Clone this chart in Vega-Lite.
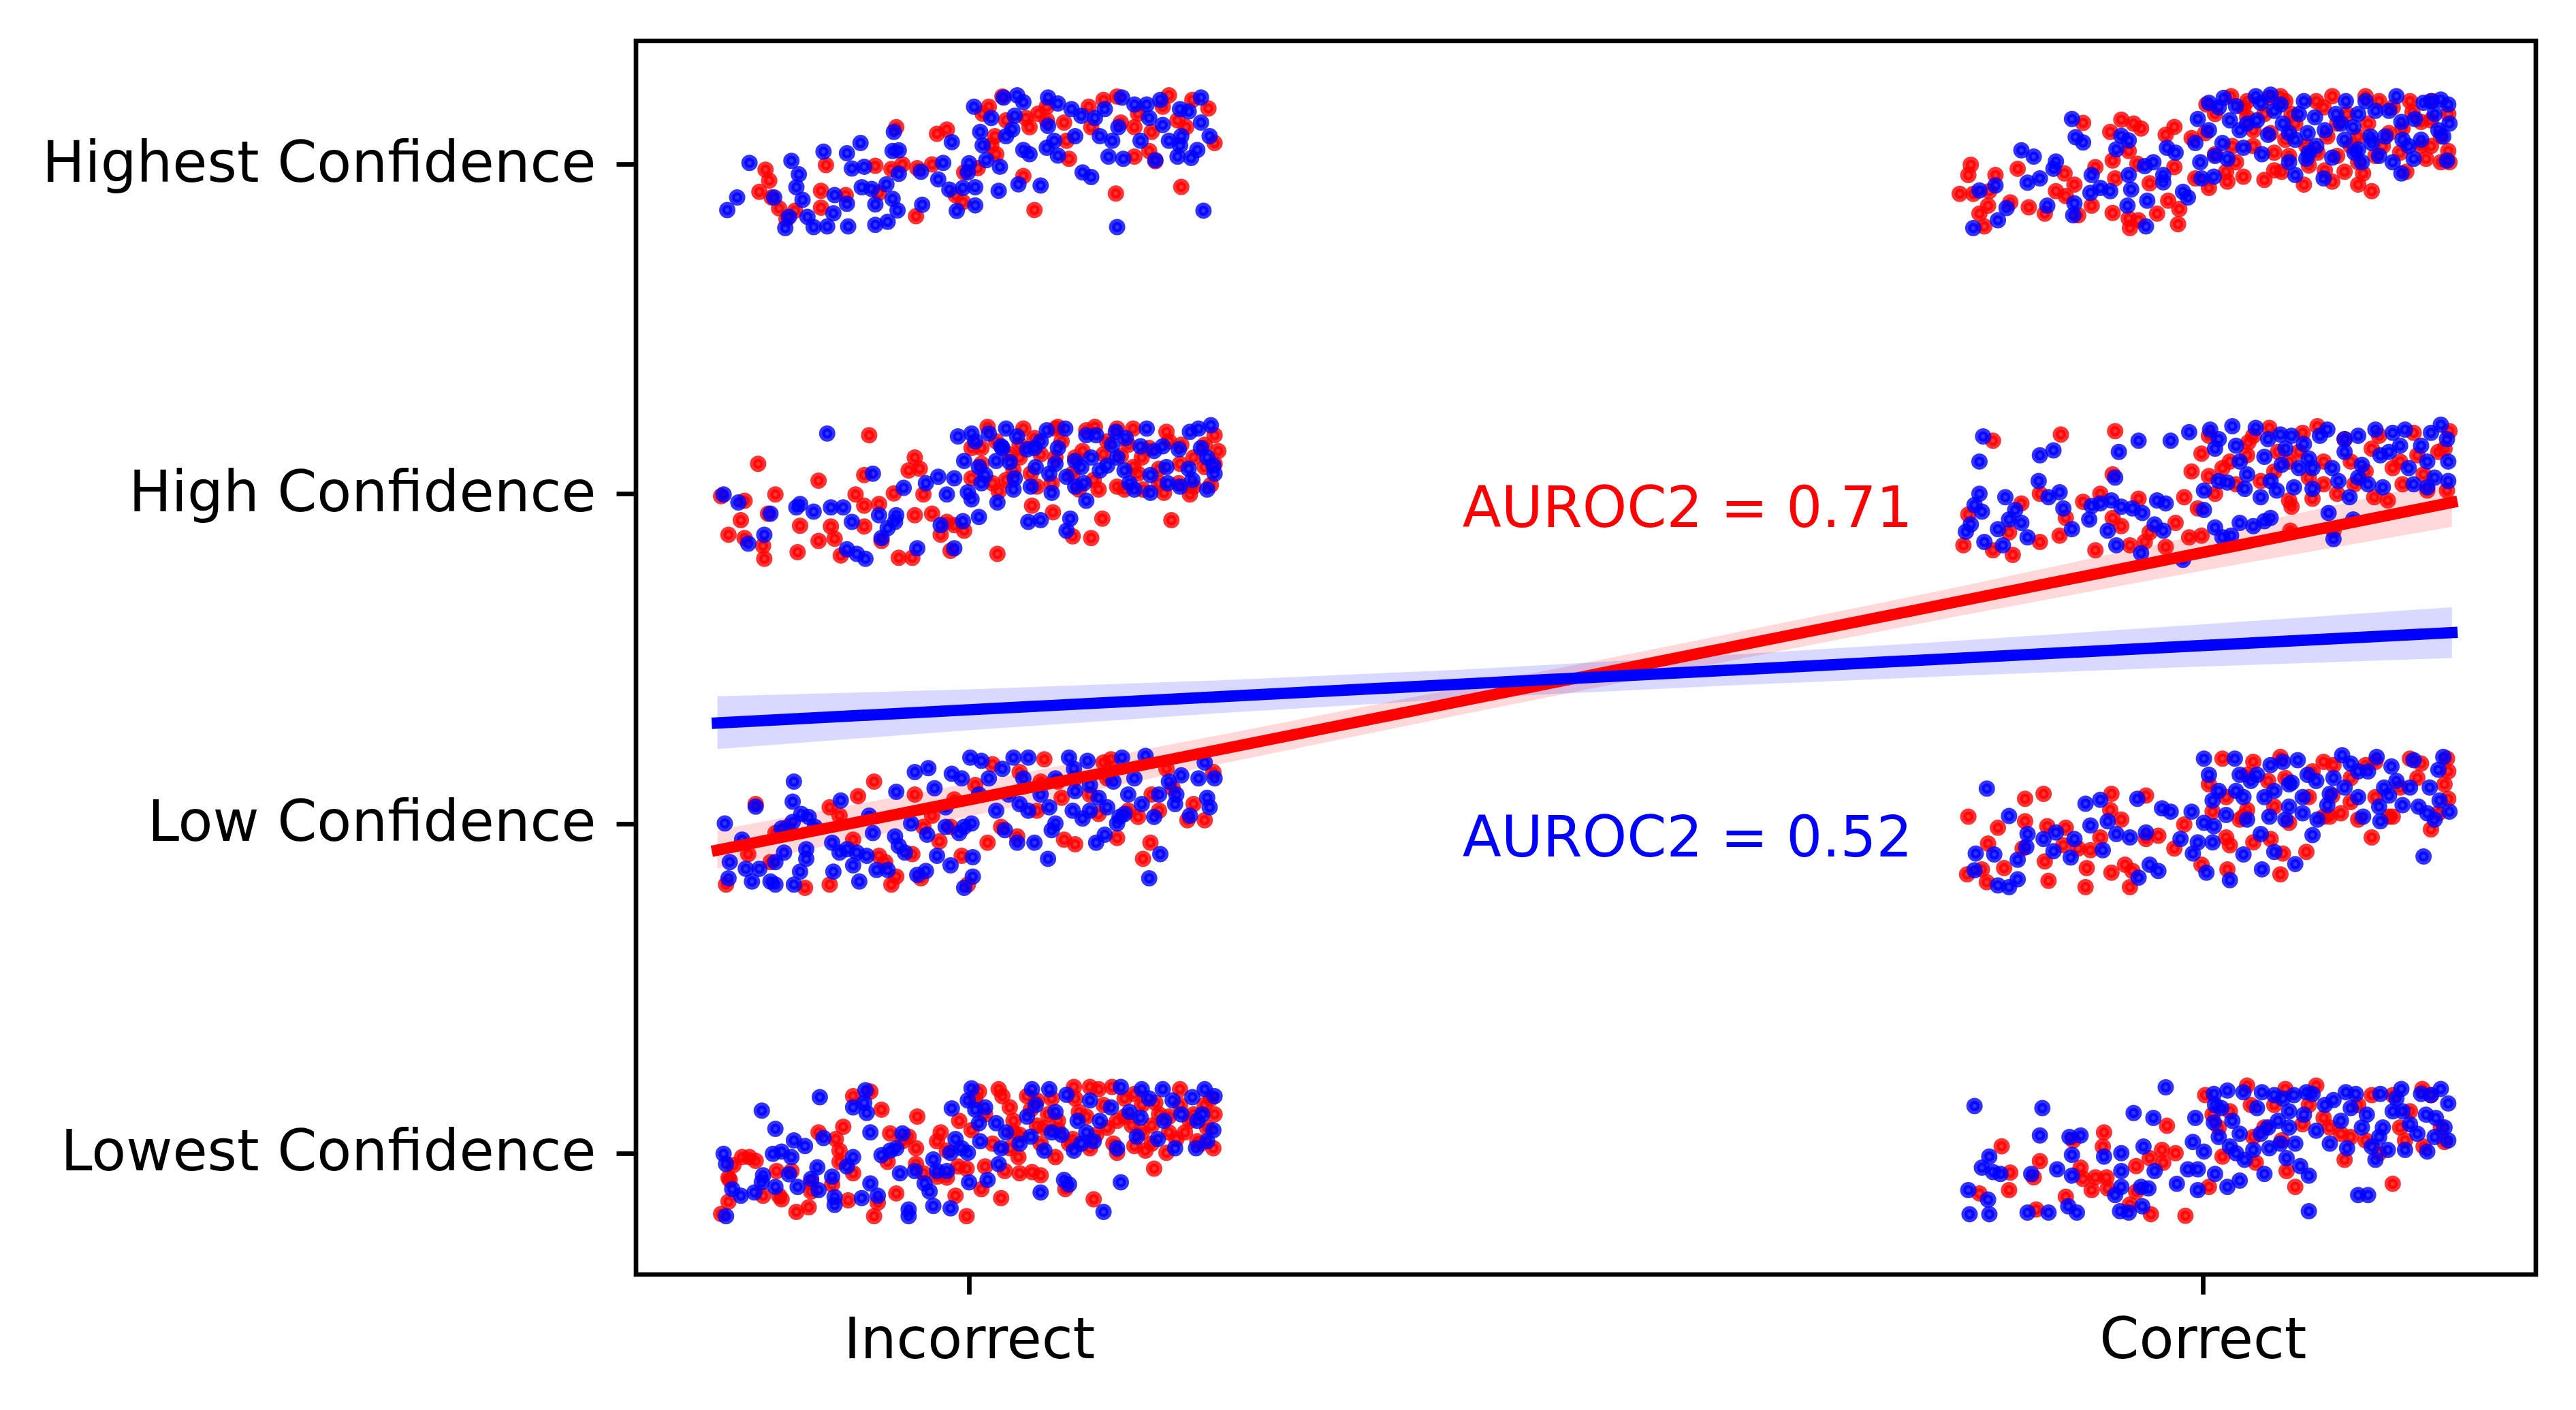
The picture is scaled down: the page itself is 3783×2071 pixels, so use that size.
{
"$schema":"https://vega.github.io/schema/vega-lite/v6.json",
"width":2790,"height":1812,
"autosize":{"type":"none"},
"padding":{"left":934,"top":60,"right":59,"bottom":199},
"background":"white",
"config":{"view":{"stroke":"black","strokeWidth":6.7},"axis":{"domain":false,"grid":false,"ticks":true,"tickSize":29,"tickWidth":6.7,"tickColor":"black","labelFont":"DejaVu Sans","labelFontSize":83.3,"labelColor":"black","labelLimit":3000,"labelOverlap":false,"labelBound":false,"labelFlush":false}},
"datasets":{
"R":[
{"x":-0.165,"y":2.983},{"x":-0.162,"y":2.95},{"x":-0.17,"y":2.916},{"x":-0.16,"y":2.899},{"x":-0.154,"y":2.866},{"x":-0.141,"y":2.859},{"x":-0.148,"y":2.833},{"x":-0.12,"y":2.919},{"x":-0.12,"y":2.868},{"x":-0.116,"y":2.997},{"x":-0.1,"y":2.906},{"x":-0.076,"y":2.995},{"x":-0.073,"y":2.913},{"x":-0.063,"y":2.985},{"x":-0.059,"y":3.112},{"x":-0.054,"y":2.999},{"x":-0.043,"y":2.842},{"x":-0.042,"y":2.988},{"x":-0.03,"y":2.999},{"x":-0.026,"y":3.092},{"x":-0.018,"y":3.105},{"x":-0.011,"y":2.906},{"x":-0.005,"y":2.885},{"x":-0.004,"y":2.975},{"x":0.007,"y":2.988},{"x":0.011,"y":3.153},{"x":0.018,"y":3.057},{"x":0.016,"y":3.174},{"x":0.022,"y":3.03},{"x":0.027,"y":3.205},{"x":0.03,"y":3.133},{"x":0.044,"y":2.964},{"x":0.049,"y":3.112},{"x":0.053,"y":2.861},{"x":0.056,"y":3.153},{"x":0.063,"y":3.133},{"x":0.077,"y":3.126},{"x":0.079,"y":3.071},{"x":0.081,"y":3.016},{"x":0.097,"y":3.174},{"x":0.109,"y":3.195},{"x":0.119,"y":2.911},{"x":0.12,"y":3.205},{"x":0.123,"y":3.126},{"x":0.134,"y":3.023},{"x":0.137,"y":3.153},{"x":0.146,"y":3.04},{"x":0.148,"y":3.098},{"x":0.151,"y":3.009},{"x":0.157,"y":3.174},{"x":0.162,"y":3.209},{"x":0.172,"y":2.931},{"x":0.176,"y":3.112},{"x":0.181,"y":3.195},{"x":0.194,"y":3.169},{"x":0.199,"y":3.064},
{"x":0.021,"y":3.085},{"x":0.063,"y":3.174},{"x":0.099,"y":3.112},{"x":0.134,"y":3.112},{"x":0.169,"y":3.133},{"x":0.046,"y":3.14},
{"x":-0.081,"y":2.178},{"x":-0.171,"y":2.091},{"x":-0.201,"y":1.993},{"x":-0.182,"y":1.979},{"x":-0.157,"y":1.998},{"x":-0.185,"y":1.92},{"x":-0.195,"y":1.876},{"x":-0.182,"y":1.866},{"x":-0.167,"y":1.842},{"x":-0.166,"y":1.803},{"x":-0.163,"y":1.94},{"x":-0.137,"y":1.903},{"x":-0.139,"y":1.823},{"x":-0.122,"y":2.04},{"x":-0.122,"y":1.857},{"x":-0.112,"y":1.901},{"x":-0.109,"y":1.864},{"x":-0.104,"y":1.813},{"x":-0.092,"y":1.998},{"x":-0.085,"y":1.964},{"x":-0.085,"y":2.057},{"x":-0.085,"y":1.901},{"x":-0.073,"y":1.969},{"x":-0.071,"y":1.857},{"x":-0.061,"y":2.001},{"x":-0.057,"y":1.806},{"x":-0.046,"y":1.806},{"x":-0.044,"y":2.11},{"x":-0.049,"y":2.071},{"x":-0.04,"y":2.076},{"x":-0.037,"y":1.998},{"x":-0.044,"y":1.935},{"x":-0.03,"y":1.94},{"x":-0.023,"y":1.876},{"x":-0.015,"y":1.827},{"x":-0.012,"y":1.905},{"x":-0.004,"y":1.888},{"x":-0.018,"y":1.915},{"x":0.002,"y":2.047},{"x":0.015,"y":2.203},{"x":0.01,"y":2.139},{"x":0.019,"y":2.032},{"x":0.023,"y":1.818},{"x":0.024,"y":2.008},{"x":0.033,"y":2.12},{"x":0.036,"y":2.071},{"x":0.041,"y":2.11},{"x":0.044,"y":2.198},{"x":0.051,"y":1.964},{"x":0.053,"y":2.169},{"x":0.055,"y":2.022},{"x":0.068,"y":1.944},{"x":0.07,"y":2.11},{"x":0.072,"y":2.203},{"x":0.084,"y":1.871},{"x":0.086,"y":2.11},{"x":0.089,"y":2.013},{"x":0.095,"y":2.193},{"x":0.099,"y":1.866},{"x":0.102,"y":2.203},{"x":0.105,"y":2.013},{"x":0.108,"y":1.925},{"x":0.109,"y":2.12},{"x":0.123,"y":2.115},{"x":0.126,"y":2.013},{"x":0.133,"y":2.198},{"x":0.133,"y":2.081},{"x":0.14,"y":2.11},{"x":0.141,"y":2.013},{"x":0.154,"y":2.076},{"x":0.158,"y":2.003},{"x":0.16,"y":2.188},{"x":0.164,"y":1.92},{"x":0.17,"y":2.032},{"x":0.172,"y":2.149},{"x":0.179,"y":1.998},{"x":0.182,"y":2.11},{"x":0.191,"y":2.081},{"x":0.196,"y":2.027},{"x":0.199,"y":2.178},{"x":0.202,"y":2.13},
{"x":0.002,"y":2.139},{"x":0.01,"y":2.091},{"x":0.022,"y":2.159},{"x":0.03,"y":2.042},{"x":0.041,"y":2.149},{"x":0.05,"y":2.061},{"x":0.058,"y":2.12},{"x":0.067,"y":2.032},{"x":0.075,"y":2.159},{"x":0.084,"y":2.061},{"x":0.092,"y":2.13},{"x":0.101,"y":2.042},{"x":0.112,"y":2.159},{"x":0.12,"y":2.022},{"x":0.129,"y":2.149},{"x":0.137,"y":2.061},{"x":0.146,"y":2.139},{"x":0.154,"y":2.032},{"x":0.162,"y":2.159},{"x":0.171,"y":2.091},{"x":0.182,"y":2.022},{"x":0.191,"y":2.149},{"x":0.199,"y":2.091},{"x":0.07,"y":2.198},{"x":0.12,"y":2.198},
{"x":-0.197,"y":0.815},{"x":-0.179,"y":0.907},{"x":-0.161,"y":0.883},{"x":-0.173,"y":1.059},{"x":-0.157,"y":0.971},{"x":-0.147,"y":0.99},{"x":-0.133,"y":0.805},{"x":-0.113,"y":0.815},{"x":-0.113,"y":1.049},{"x":-0.105,"y":1.024},{"x":-0.094,"y":0.951},{"x":-0.09,"y":1.083},{"x":-0.077,"y":1.127},{"x":-0.073,"y":0.902},{"x":-0.068,"y":0.883},{"x":-0.063,"y":0.815},{"x":-0.059,"y":0.839},{"x":-0.046,"y":0.907},{"x":-0.044,"y":1.088},{"x":-0.037,"y":0.99},{"x":-0.039,"y":0.834},{"x":-0.03,"y":1.024},{"x":-0.024,"y":0.946},{"x":-0.015,"y":0.99},{"x":-0.012,"y":1.073},{"x":-0.001,"y":0.815},{"x":0.005,"y":1.117},{"x":0.015,"y":0.942},{"x":0.019,"y":1.18},{"x":0.026,"y":0.99},{"x":0.039,"y":0.961},{"x":0.058,"y":1.127},{"x":0.061,"y":1.195},{"x":0.077,"y":0.951},{"x":0.075,"y":1.078},{"x":0.086,"y":0.937},{"x":0.098,"y":1.088},{"x":0.105,"y":1.029},{"x":0.109,"y":1.185},{"x":0.115,"y":1.195},{"x":0.12,"y":0.956},{"x":0.129,"y":1.039},{"x":0.141,"y":0.893},{"x":0.147,"y":0.942},{"x":0.148,"y":1.088},{"x":0.165,"y":1.107},{"x":0.177,"y":1.01},{"x":0.191,"y":1.01},{"x":0.198,"y":1.156},{"x":0.182,"y":1.059},{"x":0.16,"y":1.166},{"x":0.137,"y":1.02},{"x":0.072,"y":1.127},{"x":0.041,"y":1.156},{"x":-0.006,"y":0.902},{"x":0.086,"y":1.137},
{"x":0.055,"y":1.039},{"x":0.154,"y":1.039},{"x":0.112,"y":1.137},
{"x":-0.201,"y":-0.184},{"x":-0.195,"y":-0.147},{"x":-0.191,"y":-0.036},{"x":-0.194,"y":-0.081},{"x":-0.178,"y":-0.012},{"x":-0.173,"y":-0.023},{"x":-0.167,"y":-0.129},{"x":-0.154,"y":-0.129},{"x":-0.152,"y":-0.14},{"x":-0.144,"y":-0.054},{"x":-0.14,"y":-0.178},{"x":-0.13,"y":-0.164},{"x":-0.128,"y":-0.116},{"x":-0.122,"y":0.063},{"x":-0.108,"y":0.043},{"x":-0.102,"y":0.08},{"x":-0.105,"y":-0.026},{"x":-0.111,"y":-0.095},{"x":-0.098,"y":-0.143},{"x":-0.094,"y":0.173},{"x":-0.08,"y":0.187},{"x":-0.071,"y":0.132},{"x":-0.074,"y":-0.15},{"x":-0.077,"y":-0.191},{"x":-0.066,"y":-0.026},{"x":-0.064,"y":0.06},{"x":-0.059,"y":-0.122},{"x":-0.049,"y":0.05},{"x":-0.043,"y":0.015},{"x":-0.042,"y":0.111},{"x":-0.043,"y":-0.033},{"x":-0.026,"y":0.036},{"x":-0.023,"y":0.063},{"x":-0.026,"y":-0.071},{"x":-0.018,"y":-0.074},{"x":-0.011,"y":-0.129},{"x":-0.002,"y":-0.191},{"x":-0.008,"y":0.098},{"x":-0.002,"y":-0.047},{"x":0.002,"y":0.07},{"x":0.008,"y":0.187},{"x":0.01,"y":-0.109},{"x":0.013,"y":-0.04},{"x":0.024,"y":0.194},{"x":0.026,"y":-0.136},{"x":0.029,"y":-0.054},{"x":0.033,"y":0.139},{"x":0.04,"y":-0.012},{"x":0.041,"y":-0.061},{"x":0.047,"y":0.173},{"x":0.051,"y":-0.057},{"x":0.058,"y":-0.067},{"x":0.061,"y":0.077},{"x":0.07,"y":-0.012},{"x":0.078,"y":-0.109},{"x":0.085,"y":0.201},{"x":0.089,"y":0.125},{"x":0.101,"y":-0.14},{"x":0.105,"y":0.194},{"x":0.112,"y":0.077},{"x":0.116,"y":0.201},{"x":0.12,"y":0.001},{"x":0.126,"y":0.166},{"x":0.132,"y":0.084},{"x":0.143,"y":0.008},{"x":0.15,"y":-0.047},{"x":0.151,"y":0.153},{"x":0.16,"y":0.001},{"x":0.171,"y":0.194},{"x":0.175,"y":0.063},{"x":0.185,"y":0.036},{"x":0.191,"y":0.146},{"x":0.198,"y":0.015},{"x":0.199,"y":0.118},{"x":0.193,"y":0.077},{"x":0.134,"y":0.022},{"x":0.098,"y":0.015},{"x":0.064,"y":0.118},{"x":0.162,"y":0.111},{"x":0.036,"y":0.063},{"x":0.055,"y":0.16},{"x":0.072,"y":0.07},{"x":0.12,"y":0.098},{"x":0.148,"y":0.084},{"x":0.168,"y":0.043},{"x":0.084,"y":0.043},{"x":0.182,"y":0.118},
{"x":0.005,"y":0.166},{"x":0.013,"y":0.118},{"x":0.019,"y":0.029},{"x":0.027,"y":0.173},{"x":0.036,"y":0.098},{"x":0.041,"y":0.056},{"x":0.05,"y":0.132},{"x":0.058,"y":0.029},{"x":0.067,"y":0.166},{"x":0.072,"y":0.098},{"x":0.081,"y":0.029},{"x":0.086,"y":0.166},{"x":0.095,"y":0.111},{"x":0.103,"y":0.056},{"x":0.109,"y":0.146},{"x":0.117,"y":0.029},{"x":0.126,"y":0.111},{"x":0.134,"y":0.18},{"x":0.14,"y":0.063},{"x":0.148,"y":0.029},{"x":0.154,"y":0.118},{"x":0.162,"y":0.063},{"x":0.171,"y":0.146},{"x":0.179,"y":0.098},{"x":0.188,"y":0.029},{"x":0.196,"y":0.166},{"x":0.14,"y":0.146},{"x":0.098,"y":0.201},{"x":0.055,"y":0.084},{"x":0.033,"y":0.015},{"x":-0.184,"y":-0.012},{"x":-0.195,"y":-0.074},{"x":-0.156,"y":-0.054},{"x":-0.128,"y":-0.088},{"x":-0.105,"y":0.008},{"x":-0.094,"y":-0.061},{"x":-0.054,"y":0.036},{"x":-0.037,"y":-0.061},{"x":-0.018,"y":0.008},{"x":-0.009,"y":-0.04},
{"x":0.812,"y":2.998},{"x":0.81,"y":2.967},{"x":0.803,"y":2.91},{"x":0.814,"y":2.91},{"x":0.827,"y":2.918},{"x":0.832,"y":2.967},{"x":0.819,"y":2.85},{"x":0.826,"y":2.874},{"x":0.823,"y":2.811},{"x":0.844,"y":2.884},{"x":0.85,"y":2.986},{"x":0.859,"y":2.869},{"x":0.872,"y":2.85},{"x":0.881,"y":2.918},{"x":0.888,"y":2.972},{"x":0.889,"y":2.903},{"x":0.896,"y":2.938},{"x":0.899,"y":2.845},{"x":0.903,"y":3.125},{"x":0.913,"y":2.991},{"x":0.91,"y":2.874},{"x":0.929,"y":2.957},{"x":0.925,"y":3.098},{"x":0.927,"y":3.011},{"x":0.927,"y":2.852},{"x":0.934,"y":3.135},{"x":0.94,"y":3.04},{"x":0.944,"y":3.123},{"x":0.95,"y":3.108},{"x":0.947,"y":3.001},{"x":0.94,"y":2.835},{"x":0.941,"y":2.806},{"x":0.948,"y":2.83},{"x":0.957,"y":2.942},{"x":0.963,"y":2.85},{"x":0.97,"y":3.089},{"x":0.972,"y":2.889},{"x":0.977,"y":3.113},{"x":0.977,"y":2.991},{"x":0.981,"y":2.864},{"x":0.98,"y":2.818},{"x":0.991,"y":3.079},{"x":0.994,"y":2.957},{"x":1.003,"y":3.181},{"x":1.005,"y":2.928},{"x":1.01,"y":3.03},{"x":1.02,"y":2.947},{"x":1.023,"y":3.206},{"x":1.027,"y":3.006},{"x":1.033,"y":2.962},{"x":1.036,"y":3.142},{"x":1.041,"y":3.055},{"x":1.05,"y":2.952},{"x":1.054,"y":3.201},{"x":1.058,"y":2.981},{"x":1.063,"y":3.206},{"x":1.067,"y":3.074},{"x":1.072,"y":3.152},{"x":1.082,"y":2.938},{"x":1.086,"y":2.996},{"x":1.093,"y":3.035},{"x":1.098,"y":3.172},{"x":1.099,"y":2.981},{"x":1.105,"y":2.947},{"x":1.105,"y":3.206},{"x":1.109,"y":3.123},{"x":1.12,"y":3.055},{"x":1.126,"y":2.938},{"x":1.13,"y":2.972},{"x":1.132,"y":3.206},{"x":1.137,"y":2.918},{"x":1.14,"y":3.025},{"x":1.146,"y":3.055},{"x":1.154,"y":3.172},{"x":1.162,"y":3.108},{"x":1.17,"y":3.157},{"x":1.177,"y":3.128},{"x":1.181,"y":3.016},{"x":1.185,"y":3.055},{"x":1.186,"y":3.191},{"x":1.193,"y":3.084},{"x":1.199,"y":3.04},{"x":1.2,"y":3.006},{"x":1.126,"y":3.084},{"x":1.07,"y":3.025},{"x":1.055,"y":3.094},{"x":1.036,"y":3.191},
{"x":1.002,"y":3.094},{"x":1.01,"y":3.152},{"x":1.024,"y":3.055},{"x":1.033,"y":3.172},{"x":1.041,"y":3.103},{"x":1.05,"y":3.152},{"x":1.058,"y":3.035},{"x":1.067,"y":3.191},{"x":1.075,"y":3.123},{"x":1.084,"y":3.055},{"x":1.092,"y":3.191},{"x":1.101,"y":3.084},{"x":1.109,"y":3.025},{"x":1.117,"y":3.152},{"x":1.126,"y":3.006},{"x":1.134,"y":3.123},{"x":1.143,"y":3.191},{"x":1.151,"y":3.094},{"x":1.16,"y":3.035},{"x":1.168,"y":3.191},{"x":1.177,"y":3.055},{"x":1.185,"y":3.133},{"x":1.193,"y":3.006},{"x":1.199,"y":3.152},{"x":1.019,"y":2.977},{"x":1.064,"y":2.977},{"x":1.115,"y":2.977},{"x":1.165,"y":2.977},
{"x":0.83,"y":2.161},{"x":0.885,"y":2.18},{"x":0.929,"y":2.19},{"x":0.927,"y":2.059},{"x":0.806,"y":1.844},{"x":0.81,"y":1.937},{"x":0.83,"y":1.829},{"x":0.846,"y":1.815},{"x":0.853,"y":1.971},{"x":0.843,"y":1.883},{"x":0.868,"y":1.854},{"x":0.868,"y":2},{"x":0.884,"y":1.873},{"x":0.889,"y":1.927},{"x":0.903,"y":1.976},{"x":0.913,"y":1.829},{"x":0.917,"y":2},{"x":0.927,"y":1.927},{"x":0.934,"y":1.902},{"x":0.941,"y":1.844},{"x":0.948,"y":1.985},{"x":0.953,"y":1.854},{"x":0.957,"y":1.883},{"x":0.97,"y":1.839},{"x":0.978,"y":1.912},{"x":0.985,"y":1.99},{"x":0.989,"y":1.868},{"x":0.999,"y":1.873},{"x":0.996,"y":1.956},{"x":0.991,"y":2.068},{"x":0.999,"y":2.122},{"x":1.005,"y":2.054},{"x":1.01,"y":2},{"x":1.016,"y":2.078},{"x":1.027,"y":2.029},{"x":1.036,"y":2.117},{"x":1.037,"y":2.156},{"x":1.047,"y":2.039},{"x":1.054,"y":2.2},{"x":1.061,"y":2.127},{"x":1.07,"y":1.98},{"x":1.072,"y":1.961},{"x":1.078,"y":2.127},{"x":1.086,"y":2.049},{"x":1.089,"y":1.985},{"x":1.093,"y":2.205},{"x":1.098,"y":2.098},{"x":1.106,"y":1.888},{"x":1.109,"y":2},{"x":1.115,"y":2.166},{"x":1.123,"y":2.029},{"x":1.132,"y":2.068},{"x":1.139,"y":1.99},{"x":1.143,"y":2.176},{"x":1.15,"y":1.98},{"x":1.154,"y":2.078},{"x":1.162,"y":2.029},{"x":1.171,"y":2.185},{"x":1.174,"y":2.117},{"x":1.182,"y":2.01},{"x":1.191,"y":2.127},{"x":1.198,"y":2.01},{"x":1.2,"y":2.19},{"x":1.071,"y":1.888},
{"x":1.005,"y":2.176},{"x":1.022,"y":2.098},{"x":1.041,"y":2.176},{"x":1.058,"y":2.068},{"x":1.081,"y":2.185},{"x":1.098,"y":2.029},{"x":1.12,"y":2.098},{"x":1.137,"y":2.137},{"x":1.16,"y":2.098},{"x":1.179,"y":2.059},{"x":1.196,"y":2.137},{"x":1.07,"y":2.098},
{"x":0.81,"y":1.021},{"x":0.809,"y":0.846},{"x":0.825,"y":0.822},{"x":0.821,"y":0.861},{"x":0.826,"y":0.939},{"x":0.839,"y":0.865},{"x":0.834,"y":0.987},{"x":0.856,"y":1.075},{"x":0.856,"y":1.007},{"x":0.854,"y":0.924},{"x":0.871,"y":1.09},{"x":0.874,"y":0.992},{"x":0.872,"y":0.885},{"x":0.875,"y":0.826},{"x":0.889,"y":0.987},{"x":0.887,"y":0.934},{"x":0.899,"y":0.924},{"x":0.906,"y":0.865},{"x":0.905,"y":0.807},{"x":0.909,"y":0.919},{"x":0.917,"y":0.958},{"x":0.926,"y":1.09},{"x":0.925,"y":1.041},{"x":0.926,"y":0.851},{"x":0.934,"y":1.012},{"x":0.937,"y":0.875},{"x":0.941,"y":0.807},{"x":0.943,"y":0.856},{"x":0.954,"y":1.085},{"x":0.954,"y":0.953},{"x":0.964,"y":0.963},{"x":0.977,"y":0.924},{"x":0.985,"y":0.997},{"x":0.999,"y":0.875},{"x":1.008,"y":1.036},{"x":1.019,"y":0.958},{"x":1.022,"y":0.934},{"x":1.02,"y":0.861},{"x":1.016,"y":1.197},{"x":1.03,"y":1.012},{"x":1.036,"y":1.148},{"x":1.041,"y":0.943},{"x":1.055,"y":0.953},{"x":1.063,"y":0.846},{"x":1.065,"y":0.909},{"x":1.067,"y":1.138},{"x":1.084,"y":0.914},{"x":1.089,"y":1.158},{"x":1.098,"y":1.021},{"x":1.063,"y":1.202},{"x":1.105,"y":1.085},{"x":1.112,"y":1.031},{"x":1.12,"y":1.065},{"x":1.126,"y":1.012},{"x":1.132,"y":1.177},{"x":1.137,"y":0.958},{"x":1.151,"y":1.021},{"x":1.16,"y":1.109},{"x":1.168,"y":1.197},{"x":1.177,"y":1.182},{"x":1.185,"y":0.982},{"x":1.196,"y":1.119},{"x":1.199,"y":1.075},{"x":1.198,"y":1.197},{"x":1.058,"y":1.051},{"x":1.106,"y":1.177},{"x":1.033,"y":1.021},
{"x":1.005,"y":1.119},{"x":1.019,"y":1.08},{"x":1.036,"y":1.041},{"x":1.053,"y":1.129},{"x":1.07,"y":1.002},{"x":1.086,"y":1.08},{"x":1.103,"y":1.021},{"x":1.12,"y":1.138},{"x":1.14,"y":1.08},{"x":1.154,"y":1.021},{"x":1.174,"y":1.138},{"x":1.191,"y":1.031},{"x":1.199,"y":1.158},{"x":1.041,"y":1.187},{"x":1.098,"y":1.187},{"x":1.14,"y":1.187},
{"x":0.837,"y":0.021},{"x":0.819,"y":-0.122},{"x":0.844,"y":-0.059},{"x":0.843,"y":-0.112},{"x":0.863,"y":-0.073},{"x":0.868,"y":-0.024},{"x":0.865,"y":-0.171},{"x":0.889,"y":-0.132},{"x":0.895,"y":0.039},{"x":0.901,"y":-0.044},{"x":0.903,"y":-0.078},{"x":0.91,"y":-0.112},{"x":0.913,"y":-0.073},{"x":0.922,"y":-0.073},{"x":0.92,"y":0.063},{"x":0.919,"y":0.02},{"x":0.923,"y":-0.107},{"x":0.941,"y":-0.156},{"x":0.946,"y":-0.039},{"x":0.946,"y":-0.117},{"x":0.957,"y":-0.015},{"x":0.958,"y":-0.185},{"x":0.967,"y":0.01},{"x":0.968,"y":-0.029},{"x":0.971,"y":0.083},{"x":0.978,"y":0},{"x":0.986,"y":-0.19},{"x":1.005,"y":-0.102},{"x":1.002,"y":0.176},{"x":1.008,"y":0.117},{"x":1.016,"y":-0.01},{"x":1.022,"y":0.127},{"x":1.036,"y":0.205},{"x":1.043,"y":-0.029},{"x":1.05,"y":0.078},{"x":1.058,"y":0.146},{"x":1.067,"y":0.195},{"x":1.068,"y":-0.054},{"x":1.075,"y":-0.102},{"x":1.092,"y":0.205},{"x":1.098,"y":0.107},{"x":1.103,"y":0.078},{"x":1.12,"y":0.049},{"x":1.132,"y":0.039},{"x":1.143,"y":0},{"x":1.154,"y":-0.093},{"x":1.164,"y":0.039},{"x":1.168,"y":0.127},{"x":1.178,"y":0.195},{"x":1.185,"y":0.176},{"x":1.193,"y":0.078},{"x":1.196,"y":0.034},{"x":1.154,"y":0.176},{"x":1.126,"y":0.146},{"x":1.081,"y":0.088},{"x":1.041,"y":0.049},{"x":1.115,"y":-0.02},
{"x":1.013,"y":0.078},{"x":1.039,"y":0.146},{"x":1.064,"y":0.039},{"x":1.086,"y":0.146},{"x":1.112,"y":0.059},{"x":1.137,"y":0.176},{"x":1.16,"y":0.078},{"x":1.179,"y":0.02}
],
"B":[
{"x":-0.196,"y":2.861},{"x":-0.188,"y":2.899},{"x":-0.178,"y":3.004},{"x":-0.158,"y":2.899},{"x":-0.144,"y":3.01},{"x":-0.138,"y":2.969},{"x":-0.14,"y":2.93},{"x":-0.135,"y":2.892},{"x":-0.146,"y":2.84},{"x":-0.149,"y":2.806},{"x":-0.131,"y":2.84},{"x":-0.126,"y":2.809},{"x":-0.115,"y":2.811},{"x":-0.118,"y":3.038},{"x":-0.109,"y":2.906},{"x":-0.11,"y":2.851},{"x":-0.099,"y":3.033},{"x":-0.098,"y":2.811},{"x":-0.099,"y":2.88},{"x":-0.095,"y":2.987},{"x":-0.085,"y":2.992},{"x":-0.088,"y":3.064},{"x":-0.087,"y":2.93},{"x":-0.079,"y":2.925},{"x":-0.076,"y":2.816},{"x":-0.076,"y":2.878},{"x":-0.066,"y":2.825},{"x":-0.067,"y":2.939},{"x":-0.062,"y":2.895},{"x":-0.058,"y":2.86},{"x":-0.061,"y":3.098},{"x":-0.062,"y":3.04},{"x":-0.057,"y":3.042},{"x":-0.057,"y":2.971},{"x":-0.038,"y":2.877},{"x":-0.039,"y":2.977},{"x":-0.021,"y":3.004},{"x":-0.025,"y":2.954},{"x":-0.016,"y":2.923},{"x":-0.014,"y":3.067},{"x":-0.01,"y":2.858},{"x":-0.005,"y":2.928},{"x":0.005,"y":2.93},{"x":0.005,"y":2.875},{"x":-0.001,"y":2.975},{"x":0,"y":3.003},{"x":0.004,"y":3.174},{"x":0.009,"y":3.098},{"x":0.011,"y":3.057},{"x":0.014,"y":3.012},{"x":0.018,"y":3.14},{"x":0.024,"y":2.919},{"x":0.025,"y":2.992},{"x":0.028,"y":3.202},{"x":0.037,"y":3.147},{"x":0.039,"y":3.209},{"x":0.035,"y":3.105},{"x":0.03,"y":3.085},{"x":0.044,"y":3.188},{"x":0.044,"y":3.043},{"x":0.049,"y":3.03},{"x":0.04,"y":2.939},{"x":0.058,"y":2.935},{"x":0.064,"y":3.202},{"x":0.064,"y":3.116},{"x":0.072,"y":3.184},{"x":0.069,"y":3.071},{"x":0.072,"y":3.026},{"x":0.083,"y":3.167},{"x":0.086,"y":3.085},{"x":0.091,"y":3.147},{"x":0.092,"y":2.975},{"x":0.099,"y":2.961},{"x":0.102,"y":3.14},{"x":0.106,"y":3.085},{"x":0.11,"y":3.167},{"x":0.113,"y":3.023},{"x":0.12,"y":2.809},{"x":0.124,"y":3.202},{"x":0.121,"y":3.112},{"x":0.125,"y":3.016},{"x":0.134,"y":3.181},{"x":0.139,"y":3.071},{"x":0.144,"y":3.181},{"x":0.146,"y":3.14},{"x":0.151,"y":3.012},{"x":0.155,"y":3.195},{"x":0.157,"y":3.119},{"x":0.169,"y":3.023},{"x":0.171,"y":3.057},{"x":0.172,"y":3.085},{"x":0.171,"y":3.167},{"x":0.178,"y":3.16},{"x":0.18,"y":3.019},{"x":0.185,"y":3.043},{"x":0.188,"y":3.202},{"x":0.188,"y":3.126},{"x":0.195,"y":3.085},{"x":0.19,"y":2.859},
{"x":0.063,"y":3.05},{"x":0.116,"y":3.071},{"x":0.162,"y":3.071},
{"x":-0.115,"y":2.183},{"x":-0.199,"y":1.998},{"x":-0.187,"y":1.974},{"x":-0.161,"y":1.94},{"x":-0.166,"y":1.876},{"x":-0.179,"y":1.849},{"x":-0.14,"y":1.959},{"x":-0.137,"y":1.969},{"x":-0.126,"y":1.946},{"x":-0.112,"y":1.959},{"x":-0.102,"y":1.959},{"x":-0.095,"y":1.915},{"x":-0.099,"y":1.832},{"x":-0.091,"y":1.818},{"x":-0.084,"y":1.803},{"x":-0.078,"y":2.061},{"x":-0.073,"y":1.935},{"x":-0.066,"y":1.896},{"x":-0.071,"y":1.866},{"x":-0.059,"y":1.935},{"x":-0.06,"y":1.915},{"x":-0.053,"y":2.018},{"x":-0.042,"y":1.835},{"x":-0.035,"y":2.032},{"x":-0.025,"y":2.052},{"x":-0.018,"y":1.998},{"x":-0.023,"y":1.905},{"x":-0.012,"y":2.047},{"x":-0.005,"y":1.917},{"x":-0.012,"y":1.835},{"x":-0.001,"y":2.005},{"x":0.002,"y":1.983},{"x":0.008,"y":1.93},{"x":-0.009,"y":2.174},{"x":0.002,"y":2.183},{"x":0.005,"y":2.159},{"x":-0.004,"y":2.1},{"x":0.008,"y":2.081},{"x":0.013,"y":2.057},{"x":0.016,"y":2.183},{"x":0.023,"y":1.974},{"x":0.027,"y":2.139},{"x":0.022,"y":2.1},{"x":0.03,"y":2.198},{"x":0.026,"y":2.144},{"x":0.033,"y":2.096},{"x":0.037,"y":2.047},{"x":0.039,"y":2.174},{"x":0.047,"y":2.135},{"x":0.048,"y":1.915},{"x":0.058,"y":1.92},{"x":0.05,"y":2.022},{"x":0.054,"y":2.081},{"x":0.058,"y":2.159},{"x":0.063,"y":2.193},{"x":0.065,"y":2.061},{"x":0.067,"y":2.003},{"x":0.072,"y":2.139},{"x":0.078,"y":2.198},{"x":0.079,"y":2.052},{"x":0.082,"y":1.925},{"x":0.079,"y":1.888},{"x":0.086,"y":2.1},{"x":0.091,"y":2.081},{"x":0.095,"y":2.178},{"x":0.093,"y":2.032},{"x":0.095,"y":1.979},{"x":0.099,"y":2.11},{"x":0.106,"y":2.071},{"x":0.112,"y":2.086},{"x":0.116,"y":2.149},{"x":0.119,"y":2.188},{"x":0.127,"y":2.169},{"x":0.126,"y":2.071},{"x":0.13,"y":2.032},{"x":0.139,"y":2.144},{"x":0.144,"y":2.198},{"x":0.147,"y":2.057},{"x":0.147,"y":2.003},{"x":0.15,"y":2.13},{"x":0.157,"y":2.144},{"x":0.161,"y":2.032},{"x":0.17,"y":2.135},{"x":0.171,"y":2.022},{"x":0.179,"y":2.188},{"x":0.181,"y":2.042},{"x":0.186,"y":2.198},{"x":0.188,"y":2.139},{"x":0.193,"y":2.11},{"x":0.196,"y":2.208},{"x":0.198,"y":2.086},{"x":0.199,"y":2.061},{"x":0.178,"y":2.076},
{"x":0.01,"y":2.032},{"x":0.036,"y":2.013},{"x":0.07,"y":2.091},{"x":0.103,"y":2.178},{"x":0.12,"y":2.11},{"x":0.134,"y":2.013},{"x":0.16,"y":2.081},{"x":0.193,"y":2.013},{"x":0.086,"y":2.022},{"x":0.053,"y":2.139},
{"x":-0.198,"y":1},{"x":-0.184,"y":0.951},{"x":-0.194,"y":0.883},{"x":-0.195,"y":0.834},{"x":-0.176,"y":0.824},{"x":-0.181,"y":0.863},{"x":-0.17,"y":0.863},{"x":-0.161,"y":0.824},{"x":-0.157,"y":0.815},{"x":-0.157,"y":0.883},{"x":-0.15,"y":0.912},{"x":-0.142,"y":0.815},{"x":-0.137,"y":0.854},{"x":-0.132,"y":0.893},{"x":-0.132,"y":0.922},{"x":-0.142,"y":1.127},{"x":-0.143,"y":1.066},{"x":-0.173,"y":1.051},{"x":-0.152,"y":0.985},{"x":-0.143,"y":1.005},{"x":-0.136,"y":1.029},{"x":-0.13,"y":1.02},{"x":-0.125,"y":0.99},{"x":-0.111,"y":0.942},{"x":-0.105,"y":0.912},{"x":-0.104,"y":1.07},{"x":-0.099,"y":0.922},{"x":-0.091,"y":0.912},{"x":-0.094,"y":0.873},{"x":-0.083,"y":0.902},{"x":-0.075,"y":0.859},{"x":-0.066,"y":0.859},{"x":-0.089,"y":0.824},{"x":-0.11,"y":0.854},{"x":-0.081,"y":1.024},{"x":-0.078,"y":0.971},{"x":-0.06,"y":0.961},{"x":-0.059,"y":1.096},{"x":-0.057,"y":0.932},{"x":-0.052,"y":0.912},{"x":-0.047,"y":1},{"x":-0.044,"y":1.156},{"x":-0.033,"y":1.168},{"x":-0.028,"y":1.107},{"x":-0.034,"y":0.966},{"x":-0.019,"y":0.99},{"x":-0.019,"y":1.049},{"x":-0.014,"y":1.151},{"x":-0.006,"y":1.137},{"x":-0.004,"y":0.99},{"x":-0.008,"y":0.971},{"x":0.002,"y":1},{"x":0.008,"y":1.088},{"x":0.001,"y":1.2},{"x":0.01,"y":1.19},{"x":0.016,"y":1.137},{"x":0.022,"y":1.039},{"x":0.027,"y":1.166},{"x":0.032,"y":1.088},{"x":0.029,"y":0.98},{"x":0.036,"y":1.2},{"x":0.039,"y":0.942},{"x":0.048,"y":1.2},{"x":0.044,"y":1.137},{"x":0.048,"y":1.039},{"x":0.053,"y":0.942},{"x":0.058,"y":1.088},{"x":0.065,"y":1.049},{"x":0.067,"y":0.98},{"x":0.064,"y":0.893},{"x":0.07,"y":1},{"x":0.081,"y":1.2},{"x":0.084,"y":1.039},{"x":0.086,"y":1.098},{"x":0.092,"y":1.015},{"x":0.096,"y":1.19},{"x":0.103,"y":0.942},{"x":0.11,"y":0.966},{"x":0.105,"y":1.078},{"x":0.112,"y":1.049},{"x":0.117,"y":1.127},{"x":0.122,"y":1.02},{"x":0.124,"y":1.2},{"x":0.129,"y":1.088},{"x":0.134,"y":1.137},{"x":0.14,"y":1.059},{"x":0.143,"y":1.205},{"x":0.146,"y":0.834},{"x":0.15,"y":1.02},{"x":0.154,"y":1.088},{"x":0.155,"y":0.907},{"x":0.162,"y":1.127},{"x":0.167,"y":1.059},{"x":0.172,"y":1.146},{"x":0.179,"y":1.024},{"x":0.186,"y":1.137},{"x":0.191,"y":1.185},{"x":0.193,"y":1.078},{"x":0.199,"y":1.137},{"x":0.195,"y":1.049},{"x":-0.042,"y":0.844},{"x":-0.035,"y":0.856},{"x":-0.026,"y":0.902},{"x":-0.015,"y":0.873},{"x":0.003,"y":0.898},{"x":0.003,"y":0.839},{"x":-0.004,"y":0.805},{"x":0.085,"y":1.166},{"x":0.098,"y":1.117},{"x":0.12,"y":1},
{"x":0.041,"y":1.059},{"x":0.07,"y":1.137},{"x":0.126,"y":1.029},{"x":0.168,"y":1.088},{"x":0.098,"y":1.039},
{"x":-0.199,"y":-0.002},{"x":-0.197,"y":-0.033},{"x":-0.192,"y":-0.109},{"x":-0.185,"y":-0.129},{"x":-0.197,"y":-0.191},{"x":-0.174,"y":-0.119},{"x":-0.168,"y":0.129},{"x":-0.167,"y":-0.067},{"x":-0.168,"y":-0.088},{"x":-0.157,"y":0.074},{"x":-0.157,"y":-0.102},{"x":-0.159,"y":-0.002},{"x":-0.152,"y":0.005},{"x":-0.144,"y":-0.012},{"x":-0.146,"y":-0.064},{"x":-0.142,"y":0.039},{"x":-0.139,"y":-0.102},{"x":-0.133,"y":0.022},{"x":-0.128,"y":-0.078},{"x":-0.123,"y":-0.043},{"x":-0.122,"y":-0.112},{"x":-0.121,"y":0.17},{"x":-0.118,"y":0.046},{"x":-0.111,"y":-0.071},{"x":-0.109,"y":-0.133},{"x":-0.109,"y":-0.157},{"x":-0.099,"y":-0.04},{"x":-0.094,"y":-0.012},{"x":-0.094,"y":0.139},{"x":-0.085,"y":0.153},{"x":-0.084,"y":0.191},{"x":-0.083,"y":0.122},{"x":-0.087,"y":-0.136},{"x":-0.08,"y":0.063},{"x":-0.08,"y":-0.092},{"x":-0.074,"y":-0.129},{"x":-0.071,"y":-0.006},{"x":-0.064,"y":0.008},{"x":-0.059,"y":0.015},{"x":-0.054,"y":0.06},{"x":-0.056,"y":-0.061},{"x":-0.049,"y":-0.171},{"x":-0.049,"y":-0.191},{"x":-0.044,"y":-0.054},{"x":-0.036,"y":-0.092},{"x":-0.032,"y":-0.116},{"x":-0.029,"y":-0.16},{"x":-0.029,"y":-0.019},{"x":-0.026,"y":-0.054},{"x":-0.018,"y":-0.054},{"x":-0.015,"y":0.001},{"x":-0.015,"y":-0.167},{"x":-0.014,"y":0.136},{"x":-0.011,"y":0.043},{"x":-0.006,"y":0.015},{"x":-0.001,"y":0.001},{"x":0,"y":-0.088},{"x":0.002,"y":0.197},{"x":-0.001,"y":0.16},{"x":0.005,"y":0.132},{"x":0.008,"y":0.091},{"x":0.009,"y":0.036},{"x":0.015,"y":-0.081},{"x":0.013,"y":0.139},{"x":0.022,"y":0.091},{"x":0.026,"y":0.015},{"x":0.024,"y":-0.033},{"x":0.03,"y":0.063},{"x":0.041,"y":0.029},{"x":0.047,"y":0.111},{"x":0.051,"y":0.194},{"x":0.05,"y":0.05},{"x":0.054,"y":0.146},{"x":0.058,"y":-0.119},{"x":0.061,"y":0.008},{"x":0.065,"y":0.194},{"x":0.067,"y":0.063},{"x":0.07,"y":0.125},{"x":0.075,"y":0.056},{"x":0.077,"y":-0.081},{"x":0.079,"y":0.177},{"x":0.081,"y":-0.095},{"x":0.085,"y":0.008},{"x":0.088,"y":0.098},{"x":0.091,"y":0.029},{"x":0.095,"y":0.063},{"x":0.098,"y":0.16},{"x":0.101,"y":0.036},{"x":0.106,"y":0.098},{"x":0.109,"y":-0.178},{"x":0.115,"y":0.139},{"x":0.12,"y":0.015},{"x":0.123,"y":-0.088},{"x":0.123,"y":0.201},{"x":0.13,"y":0.125},{"x":0.136,"y":0.05},{"x":0.139,"y":0.108},{"x":0.14,"y":0.194},{"x":0.146,"y":0.166},{"x":0.153,"y":0.043},{"x":0.157,"y":0.194},{"x":0.158,"y":0.098},{"x":0.165,"y":0.16},{"x":0.167,"y":0.015},{"x":0.172,"y":0.118},{"x":0.181,"y":0.17},{"x":0.184,"y":0.015},{"x":0.185,"y":0.098},{"x":0.191,"y":0.194},{"x":0.193,"y":0.036},{"x":0.198,"y":0.07},{"x":0.199,"y":0.173},{"x":0.189,"y":0.118},
{"x":0.894,"y":3.137},{"x":0.897,"y":3.082},{"x":0.903,"y":3.066},{"x":0.853,"y":3.042},{"x":0.863,"y":3.023},{"x":0.819,"y":2.92},{"x":0.832,"y":2.935},{"x":0.858,"y":2.944},{"x":0.868,"y":2.957},{"x":0.881,"y":3.008},{"x":0.879,"y":2.986},{"x":0.841,"y":2.867},{"x":0.834,"y":2.83},{"x":0.814,"y":2.806},{"x":0.874,"y":2.874},{"x":0.896,"y":2.881},{"x":0.895,"y":2.845},{"x":0.91,"y":2.967},{"x":0.909,"y":2.913},{"x":0.917,"y":2.928},{"x":0.925,"y":2.918},{"x":0.93,"y":3.045},{"x":0.934,"y":3.086},{"x":0.94,"y":3.072},{"x":0.94,"y":2.967},{"x":0.942,"y":2.923},{"x":0.939,"y":2.874},{"x":0.954,"y":2.811},{"x":0.955,"y":2.889},{"x":0.953,"y":2.994},{"x":0.96,"y":3.006},{"x":0.968,"y":2.967},{"x":0.968,"y":2.945},{"x":0.971,"y":3.05},{"x":0.978,"y":3.035},{"x":0.984,"y":2.916},{"x":0.988,"y":2.899},{"x":0.994,"y":3.064},{"x":0.996,"y":3.137},{"x":0.998,"y":3.006},{"x":0.999,"y":2.957},{"x":1.009,"y":2.962},{"x":1.005,"y":3.186},{"x":1.005,"y":3.103},{"x":1.013,"y":3.172},{"x":1.017,"y":3.201},{"x":1.016,"y":3.064},{"x":1.02,"y":3.016},{"x":1.022,"y":3.133},{"x":1.027,"y":3.176},{"x":1.03,"y":3.103},{"x":1.033,"y":3.05},{"x":1.043,"y":3.206},{"x":1.044,"y":3.133},{"x":1.047,"y":3.186},{"x":1.048,"y":3.03},{"x":1.053,"y":3.089},{"x":1.058,"y":3.162},{"x":1.063,"y":3.181},{"x":1.065,"y":3.123},{"x":1.07,"y":3.006},{"x":1.075,"y":2.967},{"x":1.075,"y":3.074},{"x":1.078,"y":3.152},{"x":1.082,"y":3.191},{"x":1.084,"y":3.016},{"x":1.085,"y":3.094},{"x":1.091,"y":3.142},{"x":1.092,"y":3.055},{"x":1.098,"y":2.957},{"x":1.099,"y":3.103},{"x":1.105,"y":3.02},{"x":1.108,"y":3.152},{"x":1.115,"y":3.074},{"x":1.116,"y":3.191},{"x":1.122,"y":3.113},{"x":1.123,"y":3.035},{"x":1.126,"y":3.152},{"x":1.129,"y":3.006},{"x":1.132,"y":3.191},{"x":1.136,"y":3.084},{"x":1.14,"y":3.162},{"x":1.143,"y":3.025},{"x":1.148,"y":3.084},{"x":1.151,"y":3.162},{"x":1.157,"y":3.206},{"x":1.154,"y":3.006},{"x":1.161,"y":2.972},{"x":1.161,"y":3.128},{"x":1.167,"y":3.055},{"x":1.171,"y":3.016},{"x":1.172,"y":3.137},{"x":1.179,"y":3.186},{"x":1.177,"y":3.074},{"x":1.188,"y":3.152},{"x":1.191,"y":3.103},{"x":1.193,"y":3.196},{"x":1.199,"y":3.181},{"x":1.2,"y":3.123},{"x":1.198,"y":3.011},{"x":1.195,"y":3.084},
{"x":1.01,"y":3.025},{"x":1.036,"y":3.123},{"x":1.07,"y":3.094},{"x":1.086,"y":3.035},{"x":1.112,"y":3.123},{"x":1.137,"y":3.064},{"x":1.162,"y":3.074},{"x":1.185,"y":3.191},{"x":1.055,"y":3.211},{"x":1.126,"y":3.045},
{"x":0.822,"y":2.174},{"x":0.819,"y":2.098},{"x":0.868,"y":2.117},{"x":0.879,"y":2.132},{"x":0.867,"y":2.039},{"x":0.819,"y":2},{"x":0.815,"y":1.966},{"x":0.821,"y":1.946},{"x":0.812,"y":1.907},{"x":0.808,"y":1.885},{"x":0.823,"y":1.854},{"x":0.838,"y":1.844},{"x":0.834,"y":1.893},{"x":0.843,"y":1.922},{"x":0.848,"y":1.951},{"x":0.853,"y":1.912},{"x":0.858,"y":1.868},{"x":0.84,"y":1.99},{"x":0.875,"y":1.99},{"x":0.884,"y":2.005},{"x":0.887,"y":1.956},{"x":0.894,"y":1.893},{"x":0.908,"y":1.922},{"x":0.91,"y":1.963},{"x":0.917,"y":1.971},{"x":0.923,"y":1.888},{"x":0.926,"y":1.98},{"x":0.93,"y":1.844},{"x":0.929,"y":2.049},{"x":0.932,"y":2.127},{"x":0.934,"y":1.961},{"x":0.943,"y":1.956},{"x":0.948,"y":2.161},{"x":0.951,"y":1.942},{"x":0.963,"y":1.98},{"x":0.97,"y":1.971},{"x":0.961,"y":1.907},{"x":0.968,"y":1.888},{"x":0.974,"y":2.161},{"x":0.989,"y":2.187},{"x":1.001,"y":2.01},{"x":1.001,"y":1.951},{"x":1.006,"y":2.195},{"x":1.01,"y":2.137},{"x":1.013,"y":2.039},{"x":1.02,"y":2.034},{"x":1.01,"y":1.898},{"x":1.016,"y":1.868},{"x":1.023,"y":1.873},{"x":1.024,"y":2.205},{"x":1.027,"y":2.146},{"x":1.03,"y":2.098},{"x":1.03,"y":1.912},{"x":1.034,"y":2.015},{"x":1.041,"y":1.902},{"x":1.043,"y":2.2},{"x":1.047,"y":1.99},{"x":1.05,"y":2.112},{"x":1.05,"y":1.917},{"x":1.055,"y":1.927},{"x":1.055,"y":2.039},{"x":1.06,"y":2.01},{"x":1.063,"y":2.18},{"x":1.064,"y":2.088},{"x":1.072,"y":2.176},{"x":1.074,"y":2.02},{"x":1.078,"y":2.078},{"x":1.082,"y":2.151},{"x":1.086,"y":2.107},{"x":1.089,"y":2.015},{"x":1.095,"y":2.176},{"x":1.101,"y":2.195},{"x":1.102,"y":1.942},{"x":1.106,"y":1.863},{"x":1.105,"y":2.078},{"x":1.11,"y":2.039},{"x":1.115,"y":2.127},{"x":1.119,"y":1.99},{"x":1.122,"y":1.922},{"x":1.126,"y":2.176},{"x":1.129,"y":2.088},{"x":1.134,"y":2.029},{"x":1.14,"y":2.195},{"x":1.144,"y":2.117},{"x":1.146,"y":2.02},{"x":1.151,"y":2.127},{"x":1.16,"y":2.146},{"x":1.164,"y":2.195},{"x":1.167,"y":2.078},{"x":1.171,"y":2.029},{"x":1.177,"y":2.146},{"x":1.182,"y":2.098},{"x":1.185,"y":2.185},{"x":1.188,"y":2.049},{"x":1.193,"y":2.21},{"x":1.198,"y":2.166},{"x":1.199,"y":2.098},{"x":0.984,"y":1.8},{"x":0.95,"y":1.82},
{"x":1.013,"y":2.166},{"x":1.036,"y":2.059},{"x":1.067,"y":2.137},{"x":1.089,"y":2.078},{"x":1.126,"y":2.049},{"x":1.154,"y":2.185},{"x":1.182,"y":2.02},{"x":1.199,"y":2.039},{"x":1.053,"y":2.166},{"x":1.115,"y":2.166},
{"x":0.825,"y":1.106},{"x":0.843,"y":1.023},{"x":0.816,"y":0.909},{"x":0.831,"y":0.906},{"x":0.815,"y":0.858},{"x":0.834,"y":0.812},{"x":0.843,"y":0.807},{"x":0.85,"y":0.831},{"x":0.85,"y":0.89},{"x":0.857,"y":0.929},{"x":0.858,"y":0.968},{"x":0.871,"y":0.953},{"x":0.879,"y":0.916},{"x":0.881,"y":0.973},{"x":0.893,"y":0.897},{"x":0.896,"y":0.953},{"x":0.905,"y":1.06},{"x":0.909,"y":0.994},{"x":0.917,"y":1.072},{"x":0.923,"y":1.007},{"x":0.919,"y":0.919},{"x":0.93,"y":0.968},{"x":0.941,"y":0.958},{"x":0.947,"y":1.075},{"x":0.954,"y":0.973},{"x":0.957,"y":0.875},{"x":0.964,"y":0.856},{"x":0.967,"y":1.046},{"x":0.974,"y":1.036},{"x":0.982,"y":0.953},{"x":0.991,"y":1.036},{"x":0.992,"y":0.909},{"x":0.996,"y":0.943},{"x":1.001,"y":1.002},{"x":1.008,"y":0.943},{"x":1.009,"y":0.992},{"x":1.003,"y":0.851},{"x":1.022,"y":0.828},{"x":1.033,"y":0.906},{"x":1.047,"y":0.968},{"x":1.048,"y":0.861},{"x":1.058,"y":0.914},{"x":1.075,"y":0.877},{"x":1.089,"y":0.965},{"x":1.001,"y":1.197},{"x":1.005,"y":1.148},{"x":1.013,"y":1.099},{"x":1.019,"y":1.026},{"x":1.026,"y":1.197},{"x":1.027,"y":1.099},{"x":1.033,"y":1.08},{"x":1.039,"y":1.129},{"x":1.044,"y":1.148},{"x":1.05,"y":1.08},{"x":1.054,"y":1.021},{"x":1.058,"y":1.099},{"x":1.067,"y":1.012},{"x":1.065,"y":1.187},{"x":1.07,"y":1.051},{"x":1.072,"y":1.124},{"x":1.077,"y":1.192},{"x":1.081,"y":1.08},{"x":1.085,"y":1.148},{"x":1.092,"y":1.129},{"x":1.093,"y":1.012},{"x":1.101,"y":1.056},{"x":1.106,"y":1.138},{"x":1.115,"y":1.109},{"x":1.113,"y":1.207},{"x":1.12,"y":1.182},{"x":1.126,"y":1.08},{"x":1.13,"y":1.021},{"x":1.134,"y":1.158},{"x":1.141,"y":1.202},{"x":1.143,"y":1.051},{"x":1.144,"y":1.007},{"x":1.147,"y":1.109},{"x":1.151,"y":1.085},{"x":1.153,"y":1.173},{"x":1.162,"y":1.056},{"x":1.168,"y":1.109},{"x":1.171,"y":1.192},{"x":1.175,"y":1.051},{"x":1.179,"y":0.9},{"x":1.184,"y":1.109},{"x":1.188,"y":1.012},{"x":1.191,"y":1.163},{"x":1.192,"y":1.07},{"x":1.195,"y":1.202},{"x":1.2,"y":1.036},{"x":0.948,"y":0.836},
{"x":1.008,"y":1.07},{"x":1.03,"y":1.148},{"x":1.055,"y":1.177},{"x":1.081,"y":1.031},{"x":1.103,"y":1.09},{"x":1.126,"y":1.158},{"x":1.157,"y":1.129},{"x":1.182,"y":1.031},{"x":1.07,"y":1.119},{"x":1.036,"y":1.012},
{"x":0.815,"y":0.143},{"x":0.87,"y":0.137},{"x":0.97,"y":0.2},{"x":0.944,"y":0.122},{"x":0.96,"y":0.107},{"x":0.994,"y":0.107},{"x":0.868,"y":0.054},{"x":0.892,"y":0.049},{"x":0.901,"y":0.054},{"x":0.827,"y":-0.01},{"x":0.821,"y":-0.044},{"x":0.83,"y":-0.057},{"x":0.836,"y":-0.063},{"x":0.81,"y":-0.112},{"x":0.826,"y":-0.141},{"x":0.811,"y":-0.185},{"x":0.827,"y":-0.185},{"x":0.858,"y":-0.18},{"x":0.875,"y":-0.18},{"x":0.861,"y":-0.063},{"x":0.882,"y":-0.049},{"x":0.894,"y":-0.068},{"x":0.894,"y":-0.005},{"x":0.891,"y":-0.161},{"x":0.898,"y":-0.18},{"x":0.92,"y":-0.01},{"x":0.934,"y":0},{"x":0.934,"y":-0.054},{"x":0.929,"y":-0.127},{"x":0.934,"y":-0.102},{"x":0.933,"y":-0.176},{"x":0.94,"y":-0.18},{"x":0.95,"y":-0.102},{"x":0.956,"y":-0.107},{"x":0.951,"y":-0.161},{"x":0.952,"y":0.02},{"x":0.961,"y":-0.054},{"x":0.979,"y":-0.093},{"x":0.988,"y":-0.049},{"x":0.996,"y":-0.049},{"x":0.996,"y":-0.112},{"x":0.992,"y":0.034},{"x":1.001,"y":0.005},{"x":1.01,"y":-0.063},{"x":1.02,"y":-0.102},{"x":1.03,"y":-0.083},{"x":1.05,"y":-0.063},{"x":1.009,"y":0.18},{"x":1.02,"y":0.19},{"x":1.033,"y":0.185},{"x":1.048,"y":0.185},{"x":1.015,"y":0.137},{"x":1.024,"y":0.098},{"x":1.009,"y":0.093},{"x":1.013,"y":0.049},{"x":1.022,"y":0.02},{"x":1.03,"y":0.059},{"x":1.034,"y":-0.02},{"x":1.041,"y":0.01},{"x":1.044,"y":0.137},{"x":1.053,"y":0.078},{"x":1.054,"y":0.015},{"x":1.061,"y":0.098},{"x":1.063,"y":0.029},{"x":1.068,"y":-0.015},{"x":1.065,"y":0.166},{"x":1.074,"y":0.176},{"x":1.075,"y":0.029},{"x":1.079,"y":-0.039},{"x":1.082,"y":0.117},{"x":1.086,"y":-0.068},{"x":1.086,"y":-0.176},{"x":1.089,"y":0.18},{"x":1.092,"y":0.068},{"x":1.106,"y":0.161},{"x":1.112,"y":0.098},{"x":1.116,"y":0.185},{"x":1.117,"y":0.015},{"x":1.124,"y":0.18},{"x":1.126,"y":-0.127},{"x":1.134,"y":-0.127},{"x":1.129,"y":0.078},{"x":1.133,"y":0.117},{"x":1.137,"y":0.02},{"x":1.14,"y":-0.02},{"x":1.144,"y":0.18},{"x":1.146,"y":0.078},{"x":1.15,"y":0.01},{"x":1.154,"y":0.127},{"x":1.157,"y":0.166},{"x":1.161,"y":0.195},{"x":1.164,"y":0.01},{"x":1.168,"y":0.088},{"x":1.174,"y":0.059},{"x":1.177,"y":0.18},{"x":1.181,"y":0.117},{"x":1.182,"y":0.005},{"x":1.188,"y":0.049},{"x":1.189,"y":0.107},{"x":1.193,"y":0.195},{"x":1.199,"y":0.151},{"x":1.196,"y":0.078},{"x":1.07,"y":0.127},{"x":1.099,"y":0.146},
{"x":1.01,"y":0.146},{"x":1.027,"y":0},{"x":1.047,"y":0.059},{"x":1.07,"y":0.078},{"x":1.084,"y":0.185},{"x":1.103,"y":0.029},{"x":1.12,"y":0.137},{"x":1.143,"y":0.049},{"x":1.162,"y":0.127},{"x":1.185,"y":0.176},{"x":1.199,"y":0.039},{"x":1.058,"y":0.176}
],
"fitR":[
{"x":-0.204,"y":0.919,"lo":0.864,"hi":0.98},{"x":0,"y":1.072,"lo":1.022,"hi":1.122},{"x":0.2,"y":1.222,"lo":1.178,"hi":1.266},{"x":0.4,"y":1.372,"lo":1.331,"hi":1.413},{"x":0.6,"y":1.522,"lo":1.481,"hi":1.563},{"x":0.8,"y":1.672,"lo":1.628,"hi":1.716},{"x":1,"y":1.822,"lo":1.767,"hi":1.877},{"x":1.202,"y":1.974,"lo":1.9,"hi":2.044}
],
"fitB":[
{"x":-0.204,"y":1.305,"lo":1.226,"hi":1.386},{"x":0,"y":1.345,"lo":1.283,"hi":1.407},{"x":0.2,"y":1.384,"lo":1.334,"hi":1.434},{"x":0.4,"y":1.423,"lo":1.379,"hi":1.467},{"x":0.6,"y":1.462,"lo":1.416,"hi":1.508},{"x":0.8,"y":1.501,"lo":1.448,"hi":1.554},{"x":1,"y":1.54,"lo":1.476,"hi":1.604},{"x":1.202,"y":1.579,"lo":1.502,"hi":1.656}
],
"notes":[
{"x":0.4,"y":1.9,"t":"AUROC2 = 0.71","g":"r"},{"x":0.4,"y":0.9,"t":"AUROC2 = 0.52","g":"b"}
]
},
"layer":[
{"data":{"name":"R"},"mark":{"type":"point","shape":"circle","filled":true},
 "encoding":{
  "x":{"field":"x","type":"quantitative","scale":{"domain":[-0.27,1.27],"nice":false,"zero":false},"axis":{"title":null,"values":[0,1],"labelExpr":"datum.value == 0 ? 'Incorrect' : 'Correct'","labelPadding":27}},
  "y":{"field":"y","type":"quantitative","scale":{"domain":[-0.368,3.374],"nice":false,"zero":false},"axis":{"title":null,"values":[0,1,2,3],"labelExpr":"datum.value == 0 ? 'Lowest Confidence' : datum.value == 1 ? 'Low Confidence' : datum.value == 2 ? 'High Confidence' : 'Highest Confidence'","labelPadding":30}},
  "size":{"value":225},"opacity":{"value":1},"fill":{"value":"#ff0000"},"fillOpacity":{"value":0.8},"stroke":{"value":"#ff0000"},"strokeOpacity":{"value":0.8},"strokeWidth":{"value":9}}},
{"data":{"name":"fitR"},"mark":{"type":"area","color":"#ff0000","opacity":0.15},
 "encoding":{"x":{"field":"x","type":"quantitative"},"y":{"field":"lo","type":"quantitative"},"y2":{"field":"hi"}}},
{"data":{"name":"B"},"mark":{"type":"point","shape":"circle","filled":true},
 "encoding":{"x":{"field":"x","type":"quantitative"},"y":{"field":"y","type":"quantitative"},
  "size":{"value":225},"opacity":{"value":1},"fill":{"value":"#0000ff"},"fillOpacity":{"value":0.8},"stroke":{"value":"#0000ff"},"strokeOpacity":{"value":0.8},"strokeWidth":{"value":9}}},
{"data":{"name":"fitB"},"mark":{"type":"area","color":"#0000ff","opacity":0.15},
 "encoding":{"x":{"field":"x","type":"quantitative"},"y":{"field":"lo","type":"quantitative"},"y2":{"field":"hi"}}},
{"data":{"name":"fitR"},"mark":{"type":"line","color":"#ff0000","strokeWidth":16.7,"strokeCap":"square"},
 "encoding":{"x":{"field":"x","type":"quantitative"},"y":{"field":"y","type":"quantitative"}}},
{"data":{"name":"fitB"},"mark":{"type":"line","color":"#0000ff","strokeWidth":16.7,"strokeCap":"square"},
 "encoding":{"x":{"field":"x","type":"quantitative"},"y":{"field":"y","type":"quantitative"}}},
{"data":{"name":"notes"},"mark":{"type":"text","align":"left","baseline":"alphabetic","font":"DejaVu Sans","fontSize":83.3},
 "encoding":{"x":{"field":"x","type":"quantitative"},"y":{"field":"y","type":"quantitative"},"text":{"field":"t"},
  "color":{"field":"g","type":"nominal","scale":{"domain":["r","b"],"range":["#ff0000","#0000ff"]},"legend":null}}}
]
}
